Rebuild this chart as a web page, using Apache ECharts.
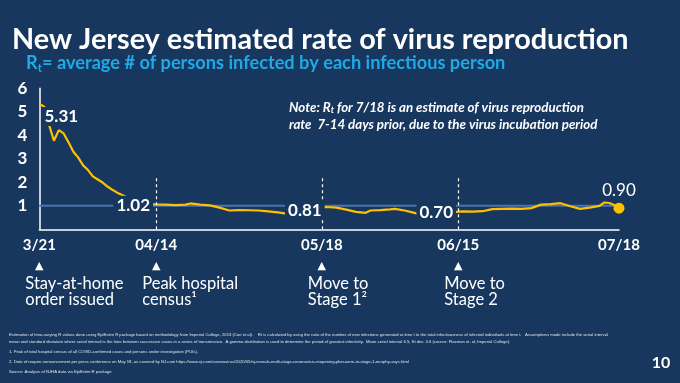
<!DOCTYPE html>
<html><head><meta charset="utf-8">
<script src="https://cdn.jsdelivr.net/npm/echarts@6/dist/echarts.min.js"></script>
<style>html,body{margin:0;padding:0;background:#17375e}#c{width:680px;height:383px}</style>
</head><body><div id="c"></div>
<script>
// Day offsets from 3/21 and estimated Rt values
const days = [0,1,2,3,4,5,6,7,8,9,10,11,12,13,14,15,16,17,18,19,20,21,22,23,24,26,28,30,31,33,35,37,39,41,43,45,47,49,51,53,54,55,58,59,61,63,65,67,68,70,72,73,75,77,78,81,83,85,87,89,91,93,95,97,99,101,103,105,107,109,111,113,115,116,117,118,119];
const rt = [5.34,5.22,4.45,3.77,4.22,4.08,3.7,3.3,3.05,2.72,2.52,2.25,2.12,1.99,1.82,1.68,1.56,1.46,1.36,1.27,1.2,1.14,1.09,1.07,1.06,1.05,1.03,1.05,1.1,1.05,1.02,0.92,0.8,0.82,0.81,0.8,0.76,0.72,0.66,0.6,0.57,0.58,0.93,0.95,0.92,0.84,0.74,0.7,0.8,0.82,0.85,0.87,0.8,0.7,0.64,0.66,0.7,0.73,0.76,0.75,0.77,0.86,0.87,0.88,0.87,0.9,1.05,1.07,1.11,0.98,0.87,0.92,1.0,1.14,1.12,1.03,0.90];
const tickDays = [0,24,58,86,119];
const tickLabels = ['3/21','04/14','05/18','06/15','07/18'];
const yTicks = [1,2,3,4,5,6];
const calloutDays = [0,24,58,86,119];
const calloutValues = [5.31,1.02,0.81,0.70,0.90];
const dashedDays = [24,58,86];
const refLevel = 1;
const eventDays = [0,24,58,86];
const eventLines = [['Stay-at-home','order issued'],['Peak hospital','census\u00b9'],['Move to','Stage 1\u00b2'],['Move to','Stage 2']];
const footnotes = [
 'Estimation of time-varying R values done using EpiEstim R package based on methodology from Imperial College, 2013 (Cori et al).    Rt is calculated by using the ratio of the number of new infections generated at time t to the total infectiousness of infected individuals at time t.   Assumptions made include the serial interval',
 'mean and standard deviation where serial interval is the time between successive cases in a series of transmission.  A gamma distribution is used to determine the period of greatest infectivity.  Mean serial interval 6.5, St dev. 4.6 (source: Flaxman et. al, Imperial College).',
 '1. Peak of total hospital census of all COVID-confirmed cases and persons under investigation (PUIs).',
 '2. Date of reopen announcement per press conference on May 18, as covered by NJ.com https://www.nj.com/coronavirus/2020/05/nj-reveals-multi-stage-coronavirus-reopening-plan-were-in-stage-1-murphy-says.html',
 'Source: Analysis of NJHA data via EpiEstim R package'
];
const pageNumber = '10';

const BG = '#17375e', GOLD = '#ffc000', FONT = 'Lato';
const chart = echarts.init(document.getElementById('c'));
const calloutOffsets = [[22,12],[-23,0],[-17,0],[-22,0],[0,-18]];
const calloutData = calloutDays.map((d,i)=>{
  const last = i === calloutDays.length-1;
  return {
    value:[d, calloutValues[i]],
    symbolSize: last ? 11 : 0,
    label:{show:true, position:'inside', offset:calloutOffsets[i],
      formatter: calloutValues[i].toFixed(2),
      color:'#fff', fontFamily:FONT, fontWeight: last?'normal':'bold', fontSize:17,
      backgroundColor: last ? 'transparent' : BG, padding:[1,3]}
  };
});

chart.setOption({
  backgroundColor: BG,
  animation:false,
  title:[
    {text:'New Jersey estimated rate of virus reproduction', left:7, top:20,
     textStyle:{color:'#fff', fontFamily:FONT, fontWeight:'bold', fontSize:28.8}},
    {text:'{r|R}{s|t}{r|= average # of persons infected by each infectious person}', left:21, top:48,
     textStyle:{rich:{
       r:{color:'#1fa9e6', fontFamily:FONT, fontWeight:'bold', fontSize:18.2, lineHeight:21},
       s:{color:'#1fa9e6', fontFamily:FONT, fontWeight:'bold', fontSize:11.5, lineHeight:21, verticalAlign:'bottom', padding:[6,0,0,0]}}}},
    {text:'{r|Note: R}{s|t}{r| for 7/18 is an estimate of virus reproduction}\n{r|rate  7-14 days prior, due to the virus incubation period}', left:284, top:94,
     textStyle:{rich:{
       r:{color:'#fff', fontFamily:FONT, fontStyle:'italic', fontSize:13.3, lineHeight:17},
       s:{color:'#fff', fontFamily:FONT, fontStyle:'italic', fontSize:9, lineHeight:17, padding:[5,0,0,0]}}}}
  ],
  grid:{left:39.3, right:61, top:88.3, bottom:153.7},
  xAxis:{type:'value', min:0, max:119,
    axisLine:{show:true, lineStyle:{color:'#fff', width:1.5}},
    axisTick:{show:false}, splitLine:{show:false},
    axisLabel:{customValues:tickDays, color:'#fff', fontFamily:FONT, fontWeight:'bold', fontSize:15, margin:8,
      formatter:(v)=>{const i=tickDays.indexOf(v); return i>=0?tickLabels[i]:'';}}},
  yAxis:{type:'value', min:0, max:6, interval:1,
    axisLine:{show:true, lineStyle:{color:'#fff', width:1.5}},
    axisTick:{show:false}, splitLine:{show:false},
    axisLabel:{color:'#fff', fontFamily:FONT, fontWeight:'bold', fontSize:17, margin:12,
      formatter:(v)=> yTicks.indexOf(v)>=0 ? String(v) : ''}},
  series:[
    {type:'line', name:'ref', data:[[0,refLevel],[119,refLevel]], symbol:'none', z:1,
     lineStyle:{color:'#4a73b5', width:2},
     markLine:{silent:true, symbol:'none', label:{show:false},
       lineStyle:{color:'#fff', type:[3,3], width:1.2},
       data: dashedDays.map(d=>[{coord:[d,0]},{coord:[d,2.3]}])}},
    {type:'line', name:'Rt', data:days.map((d,i)=>[d,rt[i]]), symbol:'none', z:3,
     lineStyle:{color:GOLD, width:2.2}},
    {type:'scatter', name:'callouts', data:calloutData, z:5, itemStyle:{color:GOLD, opacity:1}}
  ]
});

function px(d){ return chart.convertToPixel({xAxisIndex:0, yAxisIndex:0},[d,0])[0]; }
const g = [];
eventDays.forEach((d,i)=>{
  const x = px(d);
  g.push({type:'text', x:x, y:266, style:{text:'\u25B2', fill:'#fff', fontSize:11, align:'center', verticalAlign:'middle', fontFamily:'DejaVu Sans'}});
  g.push({type:'text', x:x-14, y:275, style:{text:eventLines[i].join('\n'), fill:'#fff', fontSize:16.5, lineHeight:16.5, fontFamily:FONT, align:'left', verticalAlign:'top'}});
});
const fy = [335,342,352,362,372];
footnotes.forEach((t,i)=>{
  g.push({type:'text', x:9, y:fy[i], style:{text:t, fill:'#dfe4ec', fontSize:4.2, fontFamily:'Liberation Sans', verticalAlign:'middle'}});
});
g.push({type:'text', x:661, y:363, style:{text:pageNumber, fill:'#fff', fontSize:16, fontWeight:'bold', fontFamily:FONT, align:'center', verticalAlign:'middle'}});
chart.setOption({graphic:g});
</script></body></html>
